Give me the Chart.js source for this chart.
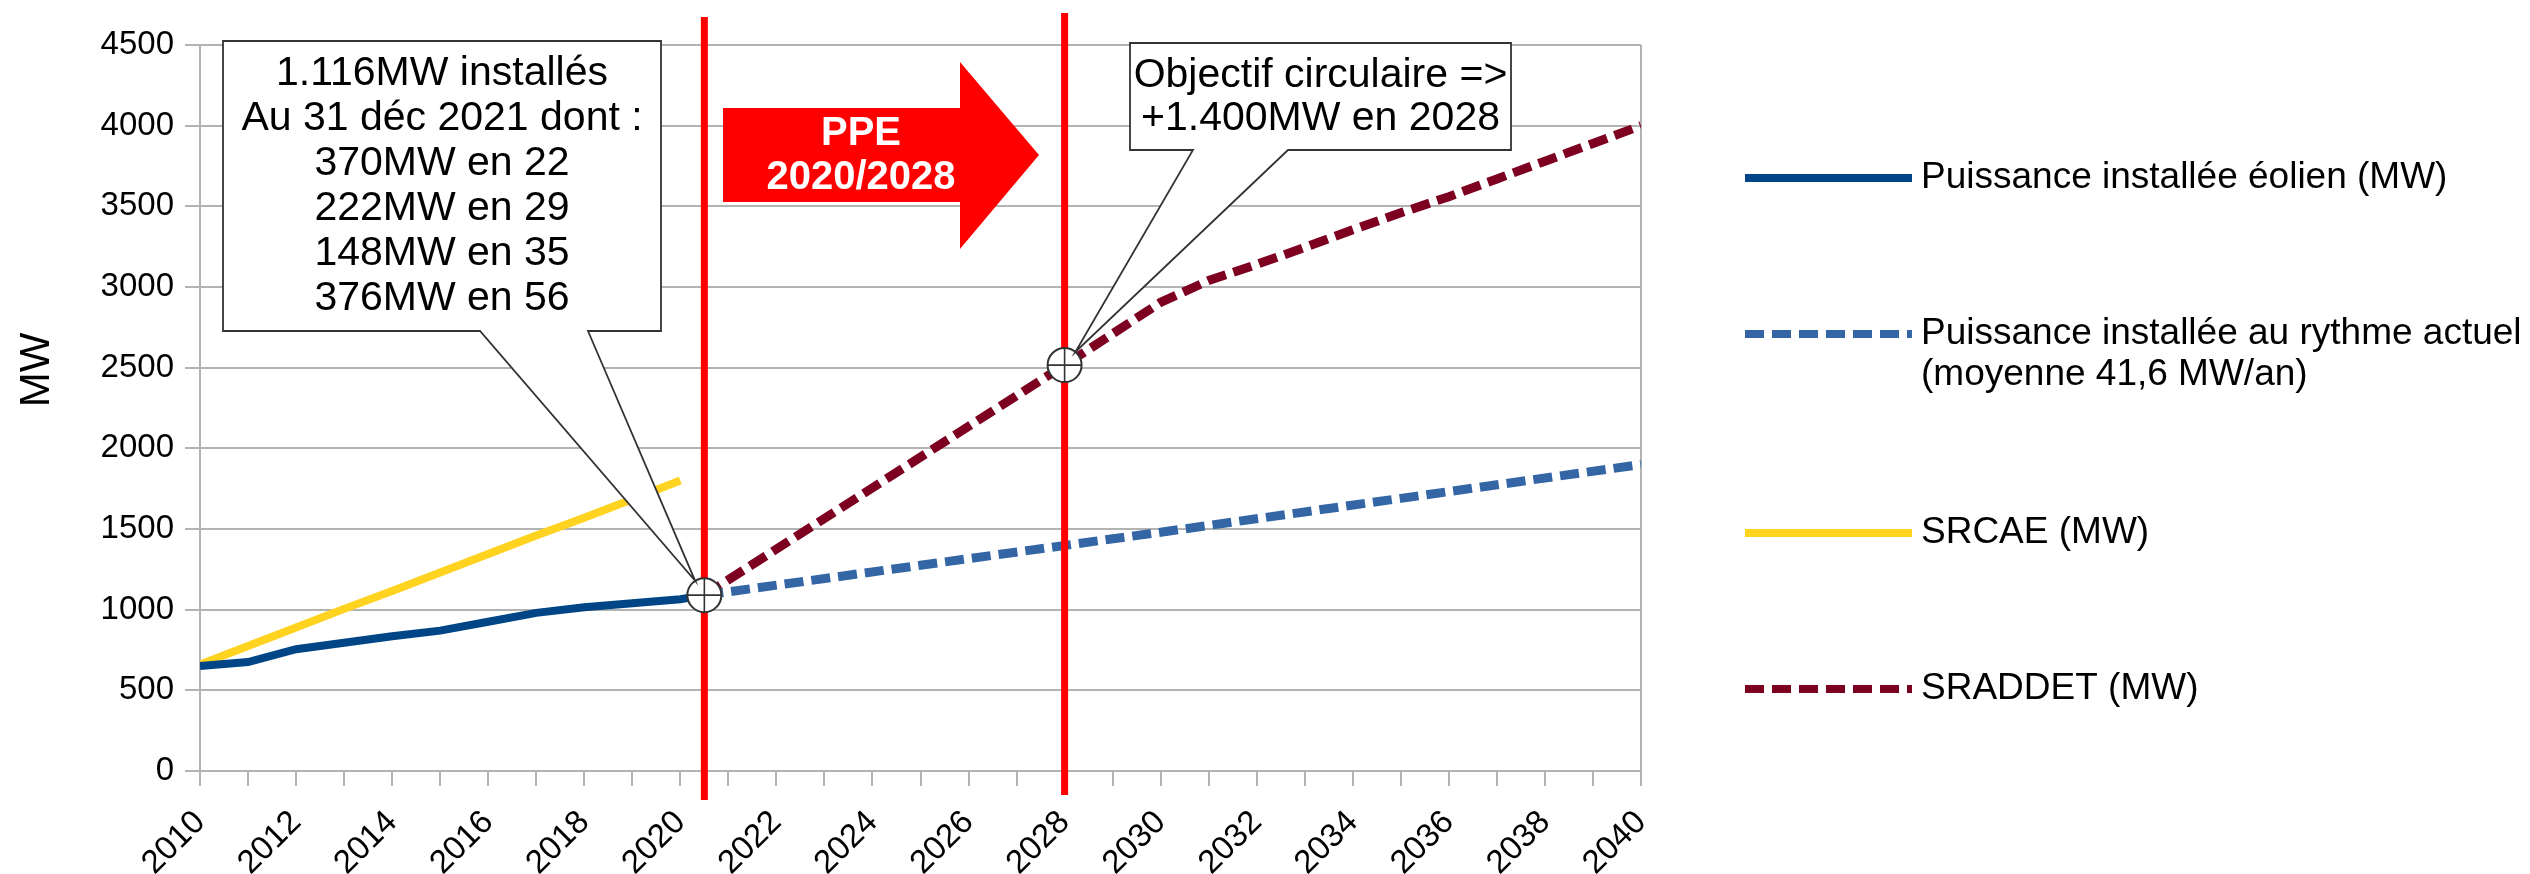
<!DOCTYPE html>
<html>
<head>
<meta charset="utf-8">
<script src="https://cdn.jsdelivr.net/npm/chart.js@4.4.1/dist/chart.umd.min.js"></script>
<style>
html,body{margin:0;padding:0;background:#fff;}
#wrap{width:2530px;height:874px;position:relative;}
</style>
</head>
<body>
<div id="wrap"><canvas id="c" width="2530" height="874"></canvas></div>
<script>
// ---- data ----
const actualYears  = [2010, 2011, 2012, 2013, 2014, 2015, 2016, 2017, 2018, 2019, 2020, 2020.5];
const actualMW     = [650, 675, 755, 795, 835, 870, 925, 980, 1015, 1040, 1065, 1090];

const trendYears   = [2020.5, 2025, 2030, 2035, 2040];
const trendMW      = [1090, 1275, 1480, 1690, 1900];

const srcaeYears   = [2010, 2011, 2012, 2013, 2014, 2015, 2016, 2017, 2018, 2019, 2020];
const srcaeMW      = [660, 775, 890, 1005, 1115, 1230, 1345, 1460, 1570, 1685, 1800];

const sraddetYears = [2020.5, 2028, 2029, 2030, 2031, 2032, 2033, 2034, 2035, 2036, 2037, 2038, 2039, 2040];
const sraddetMW    = [1090, 2516, 2710, 2905, 3040, 3140, 3245, 3355, 3460, 3560, 3670, 3780, 3890, 4000];

const legendLabels = [
  ['Puissance installée éolien (MW)'],
  ['Puissance installée au rythme actuel', '(moyenne 41,6 MW/an)'],
  ['SRCAE (MW)'],
  ['SRADDET (MW)']
];
const yTitle = 'MW';
const box1Lines = ['1.116MW installés', 'Au 31 déc 2021 dont :', '370MW en 22', '222MW en 29', '148MW en 35', '376MW en 56'];
const box2Lines = ['Objectif circulaire =>', '+1.400MW en 2028'];
const arrowLines = ['PPE', '2020/2028'];
const objectiveYear = 2028;

// ---- styles ----
const GRID = '#b3b3b3';
const FONT = '"Liberation Sans", Arial, sans-serif';
const pts = (xs, ys) => xs.map((x, i) => ({x: x, y: ys[i]}));

const annotPlugin = {
  id: 'annot',
  afterDatasetsDraw(chart) {
    const ctx = chart.ctx, xs = chart.scales.x, ys = chart.scales.y;
    const m1 = {x: xs.getPixelForValue(actualYears[actualYears.length - 1]), y: ys.getPixelForValue(actualMW[actualMW.length - 1])};
    const idx = sraddetYears.indexOf(objectiveYear);
    const m2 = {x: xs.getPixelForValue(sraddetYears[idx]), y: ys.getPixelForValue(sraddetMW[idx])};
    ctx.save();
    // red vertical lines
    ctx.strokeStyle = '#ff0000';
    ctx.lineWidth = 7;
    ctx.beginPath(); ctx.moveTo(m1.x, 17); ctx.lineTo(m1.x, 800); ctx.stroke();
    ctx.beginPath(); ctx.moveTo(m2.x, 13); ctx.lineTo(m2.x, 795); ctx.stroke();

    // circles with crosshair
    const R = 17;
    [m1, m2].forEach(m => {
      ctx.beginPath(); ctx.arc(m.x, m.y, R, 0, Math.PI * 2);
      ctx.fillStyle = '#fff'; ctx.fill();
      ctx.lineWidth = 2; ctx.strokeStyle = '#333'; ctx.stroke();
      ctx.beginPath();
      ctx.moveTo(m.x - R, m.y); ctx.lineTo(m.x + R, m.y);
      ctx.moveTo(m.x, m.y - R); ctx.lineTo(m.x, m.y + R);
      ctx.lineWidth = 1.6; ctx.stroke();
    });

    // PPE arrow
    ctx.beginPath();
    ctx.moveTo(723, 108); ctx.lineTo(960, 108); ctx.lineTo(960, 62);
    ctx.lineTo(1039, 155); ctx.lineTo(960, 249); ctx.lineTo(960, 202);
    ctx.lineTo(723, 202); ctx.closePath();
    ctx.fillStyle = '#ff0000'; ctx.fill();
    ctx.fillStyle = '#fff';
    ctx.font = 'bold 40px ' + FONT;
    ctx.textAlign = 'center'; ctx.textBaseline = 'middle';
    ctx.fillText(arrowLines[0], 861, 134);
    ctx.fillText(arrowLines[1], 861, 178);

    // callout boxes
    function callout(b, m, lines, lineY) {
      const bx = (b.b1 + b.b2) / 2, by = b.bottom;
      const dx = bx - m.x, dy = by - m.y, d = Math.hypot(dx, dy);
      const tip = {x: m.x + dx / d * R, y: m.y + dy / d * R};
      ctx.beginPath();
      ctx.moveTo(b.left, b.top); ctx.lineTo(b.right, b.top);
      ctx.lineTo(b.right, b.bottom); ctx.lineTo(b.b2, b.bottom);
      ctx.lineTo(tip.x, tip.y); ctx.lineTo(b.b1, b.bottom);
      ctx.lineTo(b.left, b.bottom); ctx.closePath();
      ctx.fillStyle = '#fff'; ctx.fill();
      ctx.lineWidth = 1.8; ctx.strokeStyle = '#333'; ctx.stroke();
      ctx.fillStyle = '#000';
      ctx.font = '41px ' + FONT;
      ctx.textAlign = 'center'; ctx.textBaseline = 'middle';
      const cx = (b.left + b.right) / 2;
      lines.forEach((t, i) => ctx.fillText(t, cx, lineY[i]));
    }
    callout({left: 223, top: 41, right: 661, bottom: 331, b1: 480, b2: 588}, m1, box1Lines, [74, 119, 164, 209, 254, 299]);
    callout({left: 1130, top: 43, right: 1511, bottom: 150, b1: 1193, b2: 1288}, m2, box2Lines, [76, 119]);
    ctx.restore();
  },
  afterDraw(chart) {
    const ctx = chart.ctx;
    ctx.save();
    // y title
    ctx.translate(37, 370);
    ctx.rotate(-Math.PI / 2);
    ctx.font = '42px ' + FONT;
    ctx.fillStyle = '#000';
    ctx.textAlign = 'center'; ctx.textBaseline = 'middle';
    ctx.fillText(yTitle, 0, 0);
    ctx.restore();

    // legend
    ctx.save();
    const rowsY = [178, 334, 533, 689];
    ctx.font = '37px ' + FONT;
    ctx.textAlign = 'left'; ctx.textBaseline = 'middle';
    chart.data.datasets.forEach((ds, i) => {
      const y = rowsY[i];
      ctx.beginPath();
      ctx.setLineDash(ds.borderDash || []);
      ctx.lineWidth = 8;
      ctx.strokeStyle = ds.borderColor;
      ctx.moveTo(1745, y); ctx.lineTo(1912, y); ctx.stroke();
      ctx.setLineDash([]);
      ctx.fillStyle = '#000';
      legendLabels[i].forEach((t, k) => ctx.fillText(t, 1921, y + k * 41));
    });
    ctx.restore();
  }
};

new Chart(document.getElementById('c'), {
  type: 'line',
  data: {
    datasets: [
      {label: legendLabels[0].join(' '), data: pts(actualYears, actualMW), borderColor: '#004586', borderWidth: 8, pointRadius: 0, tension: 0},
      {label: legendLabels[1].join(' '), data: pts(trendYears, trendMW), borderColor: '#3465a4', borderWidth: 9, borderDash: [19, 8], pointRadius: 0, tension: 0},
      {label: legendLabels[2].join(' '), data: pts(srcaeYears, srcaeMW), borderColor: '#ffd320', borderWidth: 8, pointRadius: 0, tension: 0},
      {label: legendLabels[3].join(' '), data: pts(sraddetYears, sraddetMW), borderColor: '#7e0021', borderWidth: 9, borderDash: [19, 8], pointRadius: 0, tension: 0}
    ]
  },
  options: {
    responsive: false,
    animation: false,
    devicePixelRatio: 1,
    layout: {padding: {top: 45, right: 889, bottom: 0, left: 0}},
    plugins: {legend: {display: false}, tooltip: {enabled: false}},
    scales: {
      x: {
        type: 'linear', min: 2010, max: 2040,
        afterFit(s) { s.height = 103; },
        border: {display: true, color: GRID, width: 2},
        grid: {
          drawOnChartArea: true,
          color: c => (c.tick && c.tick.value === 2040) ? GRID : 'rgba(0,0,0,0)',
          tickColor: GRID, lineWidth: 2, tickLength: 15
        },
        ticks: {
          stepSize: 1, autoSkip: false, minRotation: 45, maxRotation: 45, padding: 17,
          color: '#000', font: {family: FONT, size: 33},
          callback: v => (v % 2 === 0 ? String(v) : '')
        }
      },
      y: {
        min: 0, max: 4500,
        afterFit(s) { s.width = 200; },
        border: {display: true, color: GRID, width: 2},
        grid: {color: GRID, lineWidth: 2, tickLength: 15},
        ticks: {stepSize: 500, padding: 11, color: '#000', font: {family: FONT, size: 33}, callback: v => String(v)}
      }
    }
  },
  plugins: [annotPlugin]
});
</script>
</body>
</html>
